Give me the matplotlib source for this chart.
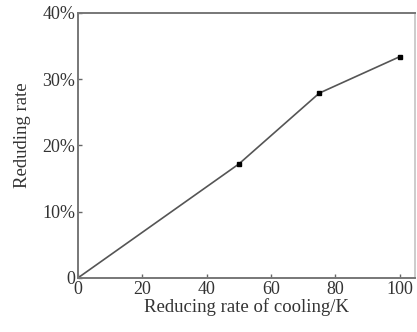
import matplotlib.pyplot as plt
import numpy as np

cooling = [0, 50, 75, 100]          # reducing rate of cooling / K
reducing = [0, 17.2, 27.9, 33.4]    # reducing rate, %
xticks = [0, 20, 40, 60, 80, 100]
yticks = [0, 10, 20, 30, 40]
ylabels = ["0", "10%", "20%", "30%", "40%"]

plt.rcParams['font.family'] = ['Liberation Serif', 'DejaVu Serif']
txt = "#333333"

fig = plt.figure(figsize=(4.17, 3.32), dpi=100)
ax = fig.add_axes([0.187, 0.163, 0.808, 0.798])

ax.plot(cooling, reducing, color="#555555", lw=1.2, marker="s", ms=3,
        mfc="black", mec="black", markevery=[1, 2, 3])

ax.set_xlim(0, 104.7)
ax.set_ylim(0, 40)
ax.set_xticks(xticks)
ax.set_yticks(yticks)
ax.set_yticklabels(ylabels)
ax.tick_params(direction="in", length=3, width=1, colors="#666666",
               labelcolor=txt, labelsize=13, pad=2)
for s in ax.spines.values():
    s.set_color("#777777")
    s.set_linewidth(1.4)
ax.spines['right'].set_color("#cccccc")

ax.set_xlabel("Reducing rate of cooling/K", fontsize=13.5, color=txt, labelpad=0)
ax.set_ylabel("Reduding rate", fontsize=13.5, color=txt, labelpad=2)
ax.yaxis.set_label_coords(-0.14, 0.54)

fig.savefig("out.png", dpi=100)
